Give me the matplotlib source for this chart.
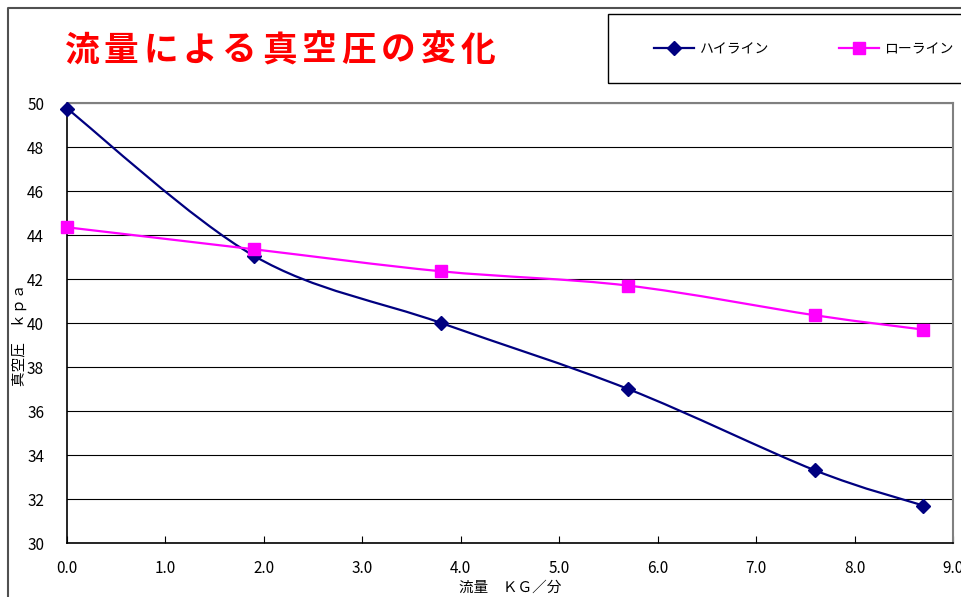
import matplotlib
matplotlib.use("Agg")
import matplotlib.pyplot as plt
import numpy as np
from matplotlib.path import Path
from matplotlib.patches import PathPatch, Rectangle
from matplotlib.lines import Line2D

plt.rcParams['font.family'] = ['Noto Sans CJK JP', 'DejaVu Sans']

title = "流量による真空圧の変化"
x_label = "流量　ＫＧ／分"
y_label = "真空圧　ｋｐａ"
series_names = ["ハイライン", "ローライン"]
flow = [0.0, 1.9, 3.8, 5.7, 7.6, 8.7]
high_line = [49.75, 43.05, 40.0, 37.0, 33.3, 31.7]
low_line = [44.35, 43.35, 42.35, 41.7, 40.35, 39.7]
x_ticks = [0, 1, 2, 3, 4, 5, 6, 7, 8, 9]
y_ticks = [30, 32, 34, 36, 38, 40, 42, 44, 46, 48, 50]

W, H = 962, 597
fig = plt.figure(figsize=(W / 100, H / 100), dpi=100)
fig.patch.set_facecolor('white')

ax = fig.add_axes([67 / W, 1 - 543 / H, 886 / W, 440 / H])
ax.set_xlim(0, 9)
ax.set_ylim(30, 50)


def smooth_path(xs, ys):
    pts = np.column_stack([xs, ys]).astype(float)
    n = len(pts)
    verts = [pts[0]]
    codes = [Path.MOVETO]
    for i in range(n - 1):
        p0 = pts[i - 1] if i > 0 else pts[i]
        p1 = pts[i]
        p2 = pts[i + 1]
        p3 = pts[i + 2] if i + 2 < n else pts[i + 1]
        c1 = p1 + (p2 - p0) / 6.0
        c2 = p2 - (p3 - p1) / 6.0
        verts += [c1, c2, p2]
        codes += [Path.CURVE4] * 3
    return Path(verts, codes)


colors = ['#000080', '#FF00FF']
markers = ['D', 's']
msizes = [7.5, 8.5]
for vals, c, m, ms in zip([high_line, low_line], colors, markers, msizes):
    ax.add_patch(PathPatch(smooth_path(flow, vals), fill=False, edgecolor=c,
                           lw=1.6, zorder=3))
    ax.plot(flow, vals, linestyle='none', marker=m, markersize=ms,
            color=c, zorder=4, clip_on=False)

ax.set_xticks(x_ticks)
ax.set_xticklabels([f"{v:.1f}" for v in x_ticks], fontsize=11)
ax.set_yticks(y_ticks)
ax.set_yticklabels([str(v) for v in y_ticks], fontsize=11)
ax.tick_params(axis='x', direction='in', length=5, width=0.8, pad=12, colors='black')
ax.tick_params(axis='y', direction='out', length=0, pad=16.5)
ax.grid(axis='y', color='black', lw=0.8)
ax.set_axisbelow(True)
for s in ['top', 'right']:
    ax.spines[s].set_color('#808080')
    ax.spines[s].set_linewidth(1.5)
for s in ['left', 'bottom']:
    ax.spines[s].set_color('black')
    ax.spines[s].set_linewidth(1.2)

fig.text(510 / W, 1 - 588 / H, x_label, fontsize=10.5, ha='center', va='center')
fig.text(19 / W, 1 - 335 / H, y_label, fontsize=10.5, ha='center', va='center',
         rotation=90)

# Title, character by character with spacing
for i, ch in enumerate(title):
    fig.text((81 + i * 39.7) / W, 1 - 50 / H, ch, fontsize=25, fontweight='bold',
             color='#FF0000', ha='center', va='center')

# outer chart border
fig.add_artist(Line2D([8 / W, 8 / W, 1], [0, 1 - 8 / H, 1 - 8 / H],
                      transform=fig.transFigure, color='#505050', lw=1.5))

# legend frame
fig.add_artist(Rectangle((608 / W, 1 - 83 / H), 360 / W, 69 / H,
                         transform=fig.transFigure, fill=False,
                         edgecolor='black', lw=1.0))
handles = [Line2D([], [], color=colors[0], marker='D', markersize=7.5, lw=1.6),
           Line2D([], [], color=colors[1], marker='s', markersize=8.5, lw=1.6)]
fig.legend(handles, series_names, loc='center left',
           bbox_to_anchor=(654 / W, 1 - 49 / H), frameon=False, ncol=2,
           fontsize=10, handlelength=2.9, handletextpad=0.4,
           columnspacing=5.0, borderpad=0, borderaxespad=0)

fig.savefig('out.png', dpi=100)
